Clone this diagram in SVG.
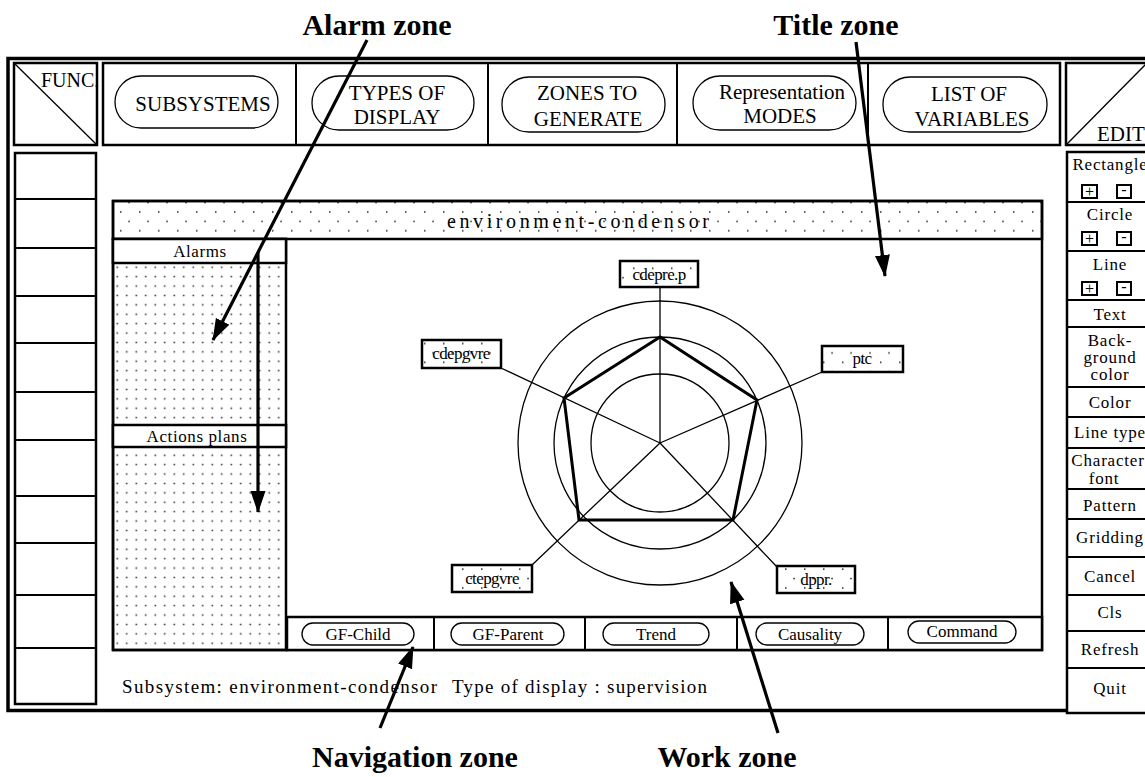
<svg xmlns="http://www.w3.org/2000/svg" width="1145" height="777" viewBox="0 0 1145 777">
<defs>
<pattern id="dotsA" patternUnits="userSpaceOnUse" x="113" y="263" width="9.5" height="9.4"><rect x="3.5" y="3.5" width="1.5" height="1.5" fill="#222"/></pattern>
<pattern id="dotsB" patternUnits="userSpaceOnUse" x="113" y="201" width="19" height="18.8"><rect x="7" y="10.2" width="1.5" height="1.5" fill="#222"/><rect x="15.3" y="0.8" width="1.5" height="1.5" fill="#222"/></pattern>
<marker id="ah" markerWidth="24" markerHeight="16" refX="21" refY="7.5" orient="auto" markerUnits="userSpaceOnUse"><path d="M0,0 L22,7.5 L0,15 z" fill="#000"/></marker>
</defs>
<style>
.t{font-family:"Liberation Serif","Times New Roman",serif;fill:#000}
.b{font-weight:bold;font-size:30px;text-anchor:middle}
.box{fill:#fff;stroke:#000;stroke-width:2.5}
.ln{stroke:#000;stroke-width:2;fill:none}
.thin{stroke:#000;stroke-width:1.3;fill:none}
.pill{fill:#fff;stroke:#000;stroke-width:1.3}
.menu{font-size:21px;text-anchor:middle}
.side{font-size:17px;text-anchor:middle;letter-spacing:0.8px}
.nav{font-size:17px;text-anchor:middle}
.btn{fill:#fff;stroke:#000;stroke-width:2}
.lbl{fill:url(#dotsB);stroke:#000;stroke-width:2.5}
.lt{font-size:17px;text-anchor:middle;letter-spacing:-0.6px}
.arr{stroke:#000;stroke-width:3.2;fill:none;marker-end:url(#ah)}
</style>
<rect width="1145" height="777" fill="#fff"/>

<g id="outer-frame"><rect x="8" y="58.5" width="1150" height="652" fill="none" stroke="#000" stroke-width="3.5"/></g>

<g id="func">
<rect class="box" x="14" y="63" width="83" height="82"/>
<line class="thin" x1="14" y1="63" x2="97" y2="145"/>
<text class="t" x="41" y="87" font-size="20">FUNC.</text>
</g>

<g id="menu-bar">
<rect class="box" x="103" y="63" width="957" height="82"/>
<line class="ln" x1="296" y1="63" x2="296" y2="145"/>
<line class="ln" x1="488" y1="63" x2="488" y2="145"/>
<line class="ln" x1="677" y1="63" x2="677" y2="145"/>
<line class="ln" x1="868" y1="63" x2="868" y2="145"/>
</g>
<g id="subsystems"><rect class="pill" x="115" y="76" width="163" height="52" rx="26"/><text class="t menu" x="203" y="111">SUBSYSTEMS</text></g>
<g id="types-of-display"><rect class="pill" x="312" y="76" width="162" height="54" rx="27"/><text class="t menu" x="397" y="100">TYPES OF</text><text class="t menu" x="397" y="124">DISPLAY</text></g>
<g id="zones-to-generate"><rect class="pill" x="502" y="77" width="163" height="55" rx="27"/><text class="t menu" x="587" y="100">ZONES TO</text><text class="t menu" x="588" y="126">GENERATE</text></g>
<g id="representation-modes"><rect class="pill" x="693" y="76" width="163" height="54" rx="27"/><text class="t menu" x="782" y="99">Representation</text><text class="t menu" x="780" y="123">MODES</text></g>
<g id="list-of-variables"><rect class="pill" x="883" y="77" width="164" height="55" rx="27"/><text class="t menu" x="969" y="101">LIST OF</text><text class="t menu" x="972" y="126">VARIABLES</text></g>

<g id="edit">
<rect class="box" x="1066" y="63" width="95" height="82"/>
<line class="thin" x1="1066" y1="145" x2="1146" y2="64"/>
<text class="t" x="1097" y="141" font-size="21">EDIT</text>
</g>

<g id="left-column">
<rect class="box" x="15" y="153" width="81" height="551"/>
<path class="ln" d="M15 199H96M15 248H96M15 296H96M15 343H96M15 392H96M15 440H96M15 496H96M15 543H96M15 595H96M15 648H96"/>
</g>

<g id="edit-column">
<rect class="box" x="1067" y="152" width="95" height="561"/>
<path class="ln" d="M1067 202H1162M1067 251H1162M1067 300H1162M1067 327H1162M1067 387H1162M1067 417H1162M1067 448H1162M1067 489H1162M1067 519H1162M1067 557H1162M1067 595H1162M1067 631H1162M1067 668H1162"/>
<text class="t side" x="1110" y="170">Rectangle</text>
<rect class="btn" x="1082" y="185" width="15" height="13"/><text class="t" x="1089.5" y="197" font-size="16" text-anchor="middle">+</text>
<rect class="btn" x="1117" y="185" width="14" height="13"/><text class="t" x="1124" y="195" font-size="16" text-anchor="middle">-</text>
<text class="t side" x="1110" y="220">Circle</text>
<rect class="btn" x="1082" y="232" width="15" height="13"/><text class="t" x="1089.5" y="244" font-size="16" text-anchor="middle">+</text>
<rect class="btn" x="1117" y="232" width="14" height="13"/><text class="t" x="1124" y="242" font-size="16" text-anchor="middle">-</text>
<text class="t side" x="1110" y="270">Line</text>
<rect class="btn" x="1082" y="282" width="15" height="13"/><text class="t" x="1089.5" y="294" font-size="16" text-anchor="middle">+</text>
<rect class="btn" x="1117" y="282" width="14" height="13"/><text class="t" x="1124" y="292" font-size="16" text-anchor="middle">-</text>
<text class="t side" x="1110" y="320">Text</text>
<text class="t side" x="1110" y="346">Back-</text>
<text class="t side" x="1110" y="363">ground</text>
<text class="t side" x="1110" y="380">color</text>
<text class="t side" x="1110" y="408">Color</text>
<text class="t side" x="1110" y="438">Line type</text>
<text class="t side" x="1108" y="466" font-size="16" letter-spacing="0.3">Character</text>
<text class="t side" x="1104" y="484" font-size="16">font</text>
<text class="t side" x="1110" y="511">Pattern</text>
<text class="t side" x="1110" y="543">Gridding</text>
<text class="t side" x="1110" y="582">Cancel</text>
<text class="t side" x="1110" y="618">Cls</text>
<text class="t side" x="1110" y="655">Refresh</text>
<text class="t side" x="1110" y="694">Quit</text>
</g>

<g id="work-frame">
<rect class="box" x="113" y="201" width="929" height="449"/>
</g>
<g id="title-zone">
<rect x="113" y="201" width="929" height="38" fill="url(#dotsB)" stroke="#000" stroke-width="2.5"/>
<text class="t" x="578" y="228" font-size="20" text-anchor="middle" textLength="262" lengthAdjust="spacing">environment-condensor</text>
</g>
<g id="alarm-zone">
<rect x="113" y="239" width="173" height="411" fill="url(#dotsA)" stroke="#000" stroke-width="2.5"/>
<rect class="box" x="113" y="239" width="173" height="24"/>
<text class="t" x="200" y="257" font-size="17" text-anchor="middle" letter-spacing="0.6">Alarms</text>
<rect class="box" x="113" y="425" width="173" height="22"/>
<text class="t" x="197" y="442" font-size="17" text-anchor="middle" letter-spacing="0.6">Actions plans</text>
</g>

<g id="navigation-zone">
<rect class="box" x="287" y="617" width="755" height="33"/>
<path class="ln" d="M434 617V650M585 617V650M737 617V650M888 617V650"/>
<rect class="pill" x="302" y="623" width="112" height="22" rx="11"/><text class="t nav" x="358" y="640">GF-Child</text>
<rect class="pill" x="451" y="623" width="113" height="22" rx="11"/><text class="t nav" x="508" y="640">GF-Parent</text>
<rect class="pill" x="603" y="623" width="106" height="22" rx="11"/><text class="t nav" x="656" y="640">Trend</text>
<rect class="pill" x="756" y="623" width="108" height="22" rx="11"/><text class="t nav" x="810" y="640">Causality</text>
<rect class="pill" x="908" y="621" width="108" height="22" rx="11"/><text class="t nav" x="962" y="637">Command</text>
</g>

<g id="radar">
<circle class="thin" cx="660" cy="443" r="69"/>
<circle class="thin" cx="660" cy="443" r="106"/>
<circle class="thin" cx="660" cy="443" r="142"/>
<path class="thin" d="M660 443L660 287M660 443L501 368M660 443L822 372M660 443L532 565M660 443L777 567"/>
<polygon points="660,337 757,400 733,520 579,520 564,398" fill="none" stroke="#000" stroke-width="3"/>
</g>
<g id="var-cdeprep"><rect class="lbl" x="620" y="261" width="78" height="26"/><text class="t lt" x="659" y="280">cdepre.p</text></g>
<g id="var-cdepgvre"><rect class="lbl" x="422" y="340" width="79" height="28"/><text class="t lt" x="461" y="359">cdepgvre</text></g>
<g id="var-ptc"><rect class="lbl" x="822" y="346" width="81" height="26"/><text class="t lt" x="862" y="364">ptc</text></g>
<g id="var-ctepgvre"><rect class="lbl" x="452" y="565" width="80" height="27"/><text class="t lt" x="492" y="584">ctepgvre</text></g>
<g id="var-dppr"><rect class="lbl" x="777" y="566" width="78" height="27"/><text class="t lt" x="816" y="585">dppr.</text></g>

<g id="status">
<text class="t" x="122" y="693" font-size="19" textLength="315" lengthAdjust="spacing">Subsystem: environment-condensor</text>
<text class="t" x="452" y="693" font-size="19" textLength="255" lengthAdjust="spacing">Type of display : supervision</text>
</g>

<g id="zone-labels">
<text class="t b" x="377" y="35">Alarm zone</text>
<text class="t b" x="836" y="35">Title zone</text>
<text class="t b" x="415" y="767">Navigation zone</text>
<text class="t b" x="727" y="767">Work zone</text>
</g>

<g id="connectors">
<line class="arr" x1="367" y1="40" x2="213" y2="340"/>
<line class="arr" x1="258" y1="252" x2="258" y2="512"/>
<line class="arr" x1="856" y1="42" x2="885" y2="276"/>
<line class="arr" x1="380" y1="728" x2="413" y2="647"/>
<line class="arr" x1="778" y1="733" x2="731" y2="582"/>
</g>
</svg>
